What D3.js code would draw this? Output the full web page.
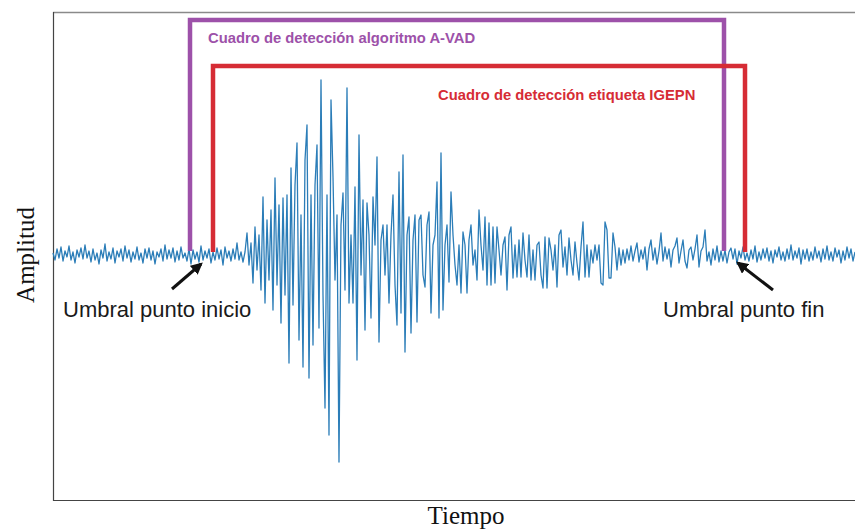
<!DOCTYPE html>
<html>
<head>
<meta charset="utf-8">
<title>Cuadro de detección</title>
<style>
  body { margin: 0; background: #fff; }
  svg { display: block; }
</style>
</head>
<body>
<div id="container"></div>
<script src="https://cdn.jsdelivr.net/npm/d3@7"></script>
<script>
// amplitude per sample (positive = up)
var preEvent = [
  2,-5,6,-3,8,-6,4,-2,9,-5,3,-8,5,-2,7,-4,
  10,-3,4,-7,6,-5,2,-9,5,-3,11,-6,3,-4,7,-8,
  4,-2,6,-6,9,-3,5,-7,3,-4,8,-5,2,-8,6,-3,
  7,-5,4,-9,3,-2,6,-6,10,-4,5,-3,7,-7,4,-5,
  8,-3,2,-6,6,-9,5,-4,3,-7,9,-5,4,-3,6,-8,
  3,-5,7,-4,5,-10,8,-3,4,-6,6,-4,12,-5,3,-7
];
var eventPart = [
  3,22,-10,12,-28,28,-15,20,-35,58,-48,35,-25,45,-55,77,-30,50,-68,57,
  -40,60,-108,87,-50,70,112,-85,40,-112,95,130,-123,60,-90,70,110,-73,
  175,-40,-153,60,-180,155,78,-25,40,-207,30,62,-35,167,-48,20,-48,68,-105,120,
  -20,55,-75,52,20,-63,58,10,98,-87,15,30,-20,30,-48,20,60,-30,-70,83,
  -58,100,-97,20,38,-78,15,40,-67,35,40,-20,-32,30,43,-58,10,20,73,-63,
  102,-55,10,30,-27,63,20,-10,-30,10,-38,23,10,-38,15,30,-10,5,-25,45,
  10,-15,38,-30,32,-30,28,-28,28,5,-20,10,18,-35,20,28,-23,10,-22,15,
  -22,22,-5,-22,20,-25,5,-25,10,13,-20,-33,18,-33,17,5,-15,10,-32,20,
  25,-12,8,-20,17,-5,-20,13,-8,-25,8,33,-22,10,-22,5,-8,10,-5,10,
  -28,-30,33,25,-23,-23,22,8,-15,7,-10
];
var coda = [
  5,-8,6,-5,9,-6,4,12,-7,5,-4,8,-15,6,15,-5,7,-9,4,22,
  -6,8,-4,6,-12,5,9,17,-8,4,15,-6,-13,5,8,-5,6,20,-12,4,
  8,25,-6,3,-10,6,-5,9,-7,4,
  -6,5,-8,3,7,-4,6,-9,4,-3,8,-5,2,-6,5,-4,9,-7,3,-5,
  6,-3,7,-6,4,-8,5,-2,8,-5,3,-6,6,-4,10,-5,4,-3,7,-9,
  5,-4,6,-6,3,-5,8,-3,4,-7,6,-4,9,-5,3,-6,7,-2,5,-8,
  4,-5,8,-3,6,-6,3
];
var signal = preEvent.concat(eventPart, coda);

// detection boxes (sample index / amplitude units)
var boxLabels = ["Cuadro de detección algoritmo A-VAD", "Cuadro de detección etiqueta IGEPN"];
var boxStart = [68.5, 80];
var boxEnd = [335.5, 346];
var boxTop = [235, 189];
var boxBottom = [4, 3];
var boxColors = ["#9d51a9", "#d62c35"];
var labelAt = [[77.5, 212], [192.5, 155]];

// threshold arrows: [tail, tip]
var arrowNames = ["Umbral punto inicio", "Umbral punto fin"];
var arrowTail = [[59.5, -34], [360, -35]];
var arrowTip = [[74, -9], [342.5, -8]];
var arrowText = [[5, -62], [305, -62]];

var W = 855, H = 531;
var svg = d3.select("#container").append("svg")
  .attr("width", W).attr("height", H);

var x = d3.scaleLinear().domain([0, signal.length - 1]).range([53, 855]);
var y = d3.scaleLinear().domain([-245, 243]).range([500, 12]);

// frame
svg.append("line").attr("x1", 53).attr("x2", 856).attr("y1", 12.5).attr("y2", 12.5)
  .attr("stroke", "#8a8a8a").attr("stroke-width", 1.5);
svg.append("line").attr("x1", 53).attr("x2", 856).attr("y1", 500.5).attr("y2", 500.5)
  .attr("stroke", "#444").attr("stroke-width", 1.2);
svg.append("line").attr("x1", 53.5).attr("x2", 53.5).attr("y1", 12).attr("y2", 501)
  .attr("stroke", "#444").attr("stroke-width", 1.2);

// waveform
var line = d3.line()
  .x(function(d, i) { return x(i); })
  .y(function(d) { return y(d); });
svg.append("path")
  .datum(signal)
  .attr("d", line)
  .attr("fill", "none")
  .attr("stroke", "#2b7db8")
  .attr("stroke-width", 1.3)
  .attr("stroke-linejoin", "round");

// boxes
for (var b = 0; b < boxLabels.length; b++) {
  var pts = [[boxStart[b], boxBottom[b]], [boxStart[b], boxTop[b]],
             [boxEnd[b], boxTop[b]], [boxEnd[b], boxBottom[b]]];
  svg.append("path")
    .attr("d", d3.line().x(function(d) { return x(d[0]); }).y(function(d) { return y(d[1]); })(pts))
    .attr("fill", "none")
    .attr("stroke", boxColors[b])
    .attr("stroke-width", 4.5);
  svg.append("text")
    .text(boxLabels[b])
    .attr("x", x(labelAt[b][0]))
    .attr("y", y(labelAt[b][1]))
    .attr("font-family", "Liberation Sans, Arial, sans-serif")
    .attr("font-weight", "bold")
    .attr("font-size", 14.8)
    .attr("fill", boxColors[b]);
}

// arrows
svg.append("defs").append("marker")
  .attr("id", "head")
  .attr("viewBox", "0 0 10 10")
  .attr("refX", 8).attr("refY", 5)
  .attr("markerWidth", 4).attr("markerHeight", 4)
  .attr("orient", "auto")
  .append("path").attr("d", "M0,0L10,5L0,10z").attr("fill", "#111");

for (var a = 0; a < arrowNames.length; a++) {
  svg.append("line")
    .attr("x1", x(arrowTail[a][0])).attr("y1", y(arrowTail[a][1]))
    .attr("x2", x(arrowTip[a][0])).attr("y2", y(arrowTip[a][1]))
    .attr("stroke", "#111").attr("stroke-width", 3)
    .attr("marker-end", "url(#head)");
  svg.append("text")
    .text(arrowNames[a])
    .attr("x", x(arrowText[a][0]))
    .attr("y", y(arrowText[a][1]))
    .attr("font-family", "Liberation Sans, Arial, sans-serif")
    .attr("font-size", 22)
    .attr("fill", "#1a1a1a");
}

// axis titles
svg.append("text")
  .text("Tiempo")
  .attr("x", 466).attr("y", 524)
  .attr("text-anchor", "middle")
  .attr("font-family", "Liberation Serif, Times New Roman, serif")
  .attr("font-size", 25)
  .attr("fill", "#111");
svg.append("text")
  .text("Amplitud")
  .attr("transform", "translate(34,255) rotate(-90)")
  .attr("text-anchor", "middle")
  .attr("font-family", "Liberation Serif, Times New Roman, serif")
  .attr("font-size", 25)
  .attr("fill", "#111");
</script>
</body>
</html>
